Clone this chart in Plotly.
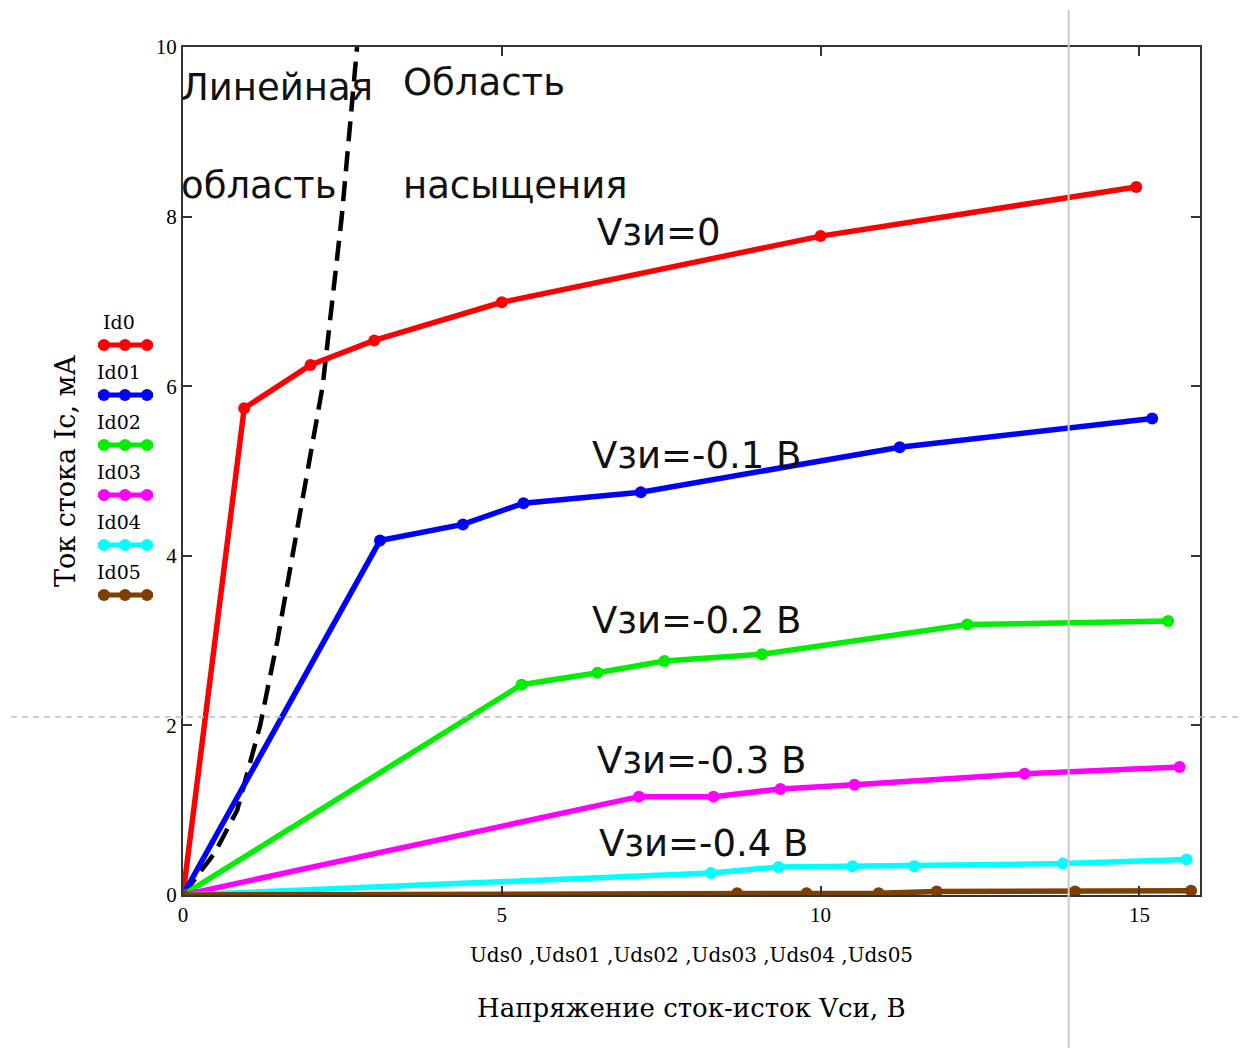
import plotly.graph_objects as go

# ---- data ----
uds0 = [0, 0.96, 2.0, 3.0, 5.0, 10.0, 14.95]
id0 = [0, 5.74, 6.25, 6.54, 6.99, 7.77, 8.35]

uds01 = [0, 3.09, 4.39, 5.34, 7.18, 11.24, 15.2]
id01 = [0, 4.18, 4.37, 4.62, 4.75, 5.28, 5.62]

uds02 = [0, 5.31, 6.5, 7.55, 9.08, 12.3, 15.45]
id02 = [0, 2.48, 2.62, 2.76, 2.84, 3.19, 3.23]

uds03 = [0, 7.15, 8.32, 9.37, 10.53, 13.2, 15.63]
id03 = [0, 1.16, 1.16, 1.25, 1.30, 1.43, 1.51]

uds04 = [0, 8.28, 9.34, 10.5, 11.47, 13.8, 15.74]
id04 = [0, 0.26, 0.33, 0.34, 0.34, 0.37, 0.42]

uds05 = [0, 8.69, 9.78, 10.91, 11.82, 13.99, 15.81]
id05 = [0, 0.02, 0.02, 0.02, 0.04, 0.04, 0.05]

# boundary between linear and saturation regions
vsat = [0, 0.5, 0.85, 1.21, 1.48, 1.72, 2.19, 2.49, 2.73]
isat = [0, 0.5, 1.0, 2.0, 3.0, 4.0, 6.0, 8.0, 10.0]

series_names = ["Id0", "Id01", "Id02", "Id03", "Id04", "Id05"]
series_x = [uds0, uds01, uds02, uds03, uds04, uds05]
series_y = [id0, id01, id02, id03, id04, id05]
series_colors = ["#ff0000", "#0000ff", "#00ee00", "#ff00ff", "#00ffff", "#7f3f00"]

x_ticks = [0, 5, 10, 15]
y_ticks = [0, 2, 4, 6, 8, 10]
x_max = 15.95
y_max = 10

cursor_x = 13.89
cursor_y = 2.1

region_labels = [
    ("Линейная", 0, 9.52),
    ("область", 0, 8.37),
    ("Область", 3.48, 9.58),
    ("насыщения", 3.48, 8.37),
]
curve_labels = [
    ("Vзи=0", 6.46, 7.81),
    ("Vзи=-0.1 В", 6.39, 5.18),
    ("Vзи=-0.2 В", 6.39, 3.24),
    ("Vзи=-0.3 В", 6.46, 1.59),
    ("Vзи=-0.4 В", 6.50, 0.61),
]

# ---- layout geometry (page body has an 8px offset) ----
OFF = 8
W, H = 1232, 1040
ML, MT = 183 - OFF, 47 - OFF
MR = W - (1200 - OFF)
MB = H - (895 - OFF)
PW, PH = W - ML - MR, H - MT - MB


def px(xs):
    return (xs - OFF - ML) / PW


def py(ys):
    return (H - MB - (ys - OFF)) / PH


SERIF = "DejaVu Serif, serif"
TSERIF = "Liberation Serif, Times New Roman, serif"
SANS = "DejaVu Sans, Verdana, sans-serif"

fig = go.Figure()

fig.add_trace(go.Scatter(
    x=vsat, y=isat, mode="lines",
    line=dict(color="black", width=4.5, dash="20px,10px"),
    showlegend=False, hoverinfo="skip"))

for name, xs, ys, c in zip(series_names, series_x, series_y, series_colors):
    fig.add_trace(go.Scatter(
        x=xs, y=ys, mode="lines+markers", name=name,
        line=dict(color=c, width=5.5),
        marker=dict(color=c, size=12),
        showlegend=False))

annotations = []
for t, x, y in region_labels:
    annotations.append(dict(x=x, y=y, xref="x", yref="y", text=t,
                            showarrow=False, xanchor="left", yanchor="middle",
                            xshift=-4,
                            font=dict(family=SANS, size=37, color="#111111")))
for t, x, y in curve_labels:
    annotations.append(dict(x=x, y=y, xref="x", yref="y", text=t,
                            showarrow=False, xanchor="left", yanchor="middle",
                            font=dict(family=SANS, size=37, color="#111111")))

annotations.append(dict(x=0.5, y=py(955), xref="paper", yref="paper",
                        text="Uds0 ,Uds01 ,Uds02 ,Uds03 ,Uds04 ,Uds05",
                        showarrow=False, xanchor="center", yanchor="middle",
                        font=dict(family=SERIF, size=20, color="black")))
annotations.append(dict(x=0.5, y=py(1008), xref="paper", yref="paper",
                        text="Напряжение сток-исток Vси, В",
                        showarrow=False, xanchor="center", yanchor="middle",
                        font=dict(family=SERIF, size=26, color="black")))
annotations.append(dict(x=px(65), y=0.5, xref="paper", yref="paper",
                        text="Ток стока Ic, мА", textangle=-90,
                        showarrow=False, xanchor="center", yanchor="middle",
                        font=dict(family=SERIF, size=27, color="black")))

shapes = []
# legend (Mathcad style: name above the sample line)
for i, (name, c) in enumerate(zip(series_names, series_colors)):
    ty = 322 + 50 * i
    ly = 345 + 50 * i
    annotations.append(dict(x=px(119), y=py(ty), xref="paper", yref="paper",
                            text=name, showarrow=False, xanchor="center",
                            yanchor="middle",
                            font=dict(family=SERIF, size=19, color="black")))
    shapes.append(dict(type="line", xref="paper", yref="paper",
                       x0=px(98), x1=px(153), y0=py(ly), y1=py(ly),
                       line=dict(color=c, width=5)))
    for mx in (104, 125, 147):
        shapes.append(dict(type="circle", xref="paper", yref="paper",
                           x0=px(mx - 6), x1=px(mx + 6),
                           y0=py(ly + 6), y1=py(ly - 6),
                           fillcolor=c, line=dict(color=c, width=0)))

# cursor cross-hair lines
shapes.append(dict(type="line", xref="paper", yref="paper",
                   x0=cursor_x / x_max, x1=cursor_x / x_max,
                   y0=py(H + OFF + 20), y1=py(10),
                   line=dict(color="#c8c8c8", width=2)))
shapes.append(dict(type="line", xref="paper", yref="paper",
                   x0=px(0), x1=px(W + 2 * OFF),
                   y0=cursor_y / y_max, y1=cursor_y / y_max,
                   line=dict(color="#bdbdbd", width=1.5, dash="6px,5px")))

axis_common = dict(showgrid=False, zeroline=False, showline=True,
                   linecolor="#333333", linewidth=2, mirror="ticks",
                   ticks="inside", ticklen=9, tickwidth=1.5, tickcolor="#333333",
                   tickfont=dict(family=TSERIF, size=21, color="black"))

fig.update_layout(
    width=W, height=H,
    margin=dict(l=ML, r=MR, t=MT, b=MB),
    paper_bgcolor="white", plot_bgcolor="white",
    xaxis=dict(range=[0, x_max], tickvals=x_ticks, **axis_common),
    yaxis=dict(range=[0, y_max], tickvals=y_ticks, **axis_common),
    annotations=annotations,
    shapes=shapes,
    showlegend=False,
)

fig.write_html("out.html")
